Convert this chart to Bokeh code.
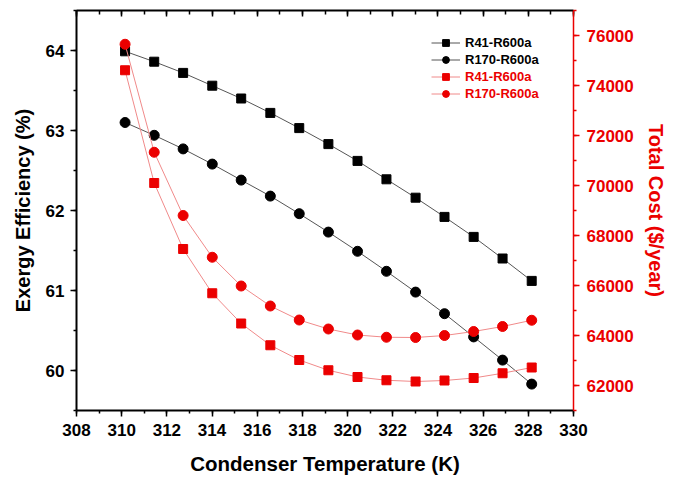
from bokeh.plotting import figure
from bokeh.models import (Range1d, LinearAxis, SingleIntervalTicker, Legend, LegendItem)
from bokeh.embed import file_html
from bokeh.resources import INLINE

# ---- data ----
temps = [310.15, 311.44, 312.72, 314.01, 315.29, 316.58, 317.86, 319.15,
         320.44, 321.72, 323.01, 324.29, 325.58, 326.86, 328.15]
eff_r41 = [63.99, 63.86, 63.72, 63.56, 63.40, 63.22, 63.03, 62.83,
           62.62, 62.39, 62.16, 61.92, 61.67, 61.40, 61.12]
eff_r170 = [63.10, 62.94, 62.77, 62.58, 62.38, 62.18, 61.96, 61.73,
            61.49, 61.24, 60.98, 60.71, 60.42, 60.13, 59.83]
cost_r41 = [74610, 70100, 67460, 65690, 64480, 63610, 63020, 62610,
            62340, 62210, 62160, 62200, 62300, 62490, 62720]
cost_r170 = [75650, 71330, 68800, 67130, 65980, 65180, 64620, 64260,
             64020, 63930, 63920, 64000, 64160, 64360, 64610]
labels = ["R41-R600a", "R170-R600a"]

FONT = "Liberation Sans"
RED = "#eb0000"
RED_LINE = "#f08a8a"
BLACK_LINE = "#555555"

p = figure(width=673, height=477, output_backend="svg", toolbar_location=None,
           x_range=Range1d(308, 330), y_range=Range1d(59.5, 64.5),
           min_border_left=76, min_border_right=100, min_border_top=10,
           min_border_bottom=67)
p.outline_line_color = None
p.grid.visible = False
p.background_fill_color = "white"
p.border_fill_color = "white"

p.extra_y_ranges = {"cost": Range1d(61000, 77000)}

# axes styling
def style_axis(ax, color="black", lw=2):
    ax.axis_line_color = color
    ax.axis_line_width = lw
    ax.major_tick_line_color = color
    ax.minor_tick_line_color = color
    ax.major_tick_line_width = 1.5
    ax.minor_tick_line_width = 1.5
    ax.major_tick_out = 6
    ax.major_tick_in = 0
    ax.minor_tick_out = 3
    ax.minor_tick_in = 0
    ax.major_label_text_font = FONT
    ax.major_label_text_font_style = "bold"
    ax.major_label_text_font_size = "17px"
    ax.major_label_text_color = color
    ax.axis_label_text_font = FONT
    ax.axis_label_text_font_style = "bold"
    ax.axis_label_text_font_size = "20px"
    ax.axis_label_text_color = color

xax = p.xaxis[0]
xax.ticker = SingleIntervalTicker(interval=2, num_minor_ticks=2)
style_axis(xax)
xax.axis_label = "Condenser Temperature (K)"
xax.axis_label_text_font_size = "20.5px"
xax.major_label_standoff = 7
xax.axis_label_standoff = 13

yax = p.yaxis[0]
yax.ticker = SingleIntervalTicker(interval=1, num_minor_ticks=2)
style_axis(yax)
yax.axis_label = "Exergy Efficiency (%)"
yax.major_label_standoff = 6
yax.axis_label_standoff = 9

rax = LinearAxis(y_range_name="cost",
                 ticker=SingleIntervalTicker(interval=2000, num_minor_ticks=2),
                 axis_label="Total Cost ($/year)")
style_axis(rax, color=RED, lw=1.5)
rax.major_label_standoff = 7
rax.axis_label_standoff = 8
p.add_layout(rax, "right")

tax = LinearAxis(ticker=SingleIntervalTicker(interval=2, num_minor_ticks=2))
tax.axis_line_width = 2
tax.major_tick_in = 6
tax.major_tick_out = 0
tax.minor_tick_in = 4
tax.minor_tick_out = 0
tax.major_tick_line_width = 1.5
tax.minor_tick_line_width = 1.5
tax.major_label_text_color = None
tax.major_label_standoff = 0
p.add_layout(tax, "above")

# data
l1 = p.line(temps, eff_r41, line_color=BLACK_LINE, line_width=1)
s1 = p.scatter(temps, eff_r41, marker="square", size=9, color="black")
l2 = p.line(temps, eff_r170, line_color=BLACK_LINE, line_width=1)
s2 = p.scatter(temps, eff_r170, marker="circle", size=10, color="black")
l3 = p.line(temps, cost_r41, line_color=RED_LINE, line_width=1, y_range_name="cost")
s3 = p.scatter(temps, cost_r41, marker="square", size=9, color=RED, y_range_name="cost")
l4 = p.line(temps, cost_r170, line_color=RED_LINE, line_width=1, y_range_name="cost")
s4 = p.scatter(temps, cost_r170, marker="circle", size=10, color=RED, y_range_name="cost")

def make_legend(items, color, loc):
    lg = Legend(items=items, location=loc, padding=0, spacing=0,
                glyph_width=29, glyph_height=17, label_height=14,
                label_standoff=5, border_line_color=None,
                background_fill_alpha=0,
                label_text_font=FONT, label_text_font_style="bold",
                label_text_font_size="13px", label_text_color=color)
    p.add_layout(lg, "center")

make_legend([LegendItem(label=labels[0], renderers=[l1, s1]),
             LegendItem(label=labels[1], renderers=[l2, s2])], "black", (355, 342))
make_legend([LegendItem(label=labels[0], renderers=[l3, s3]),
             LegendItem(label=labels[1], renderers=[l4, s4])], RED, (355, 308))

open("out.html", "w").write(file_html(p, INLINE))
